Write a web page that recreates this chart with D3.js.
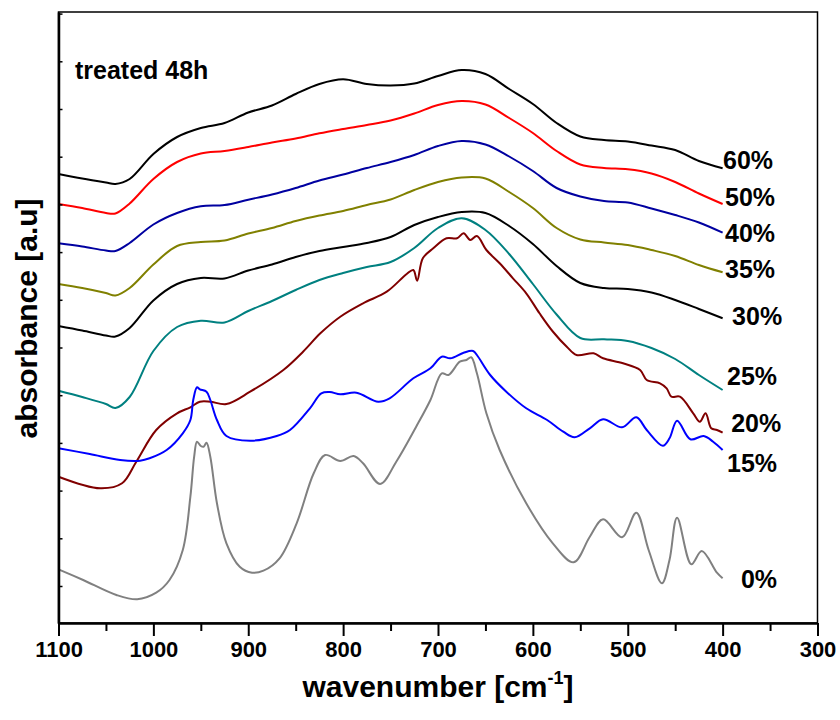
<!DOCTYPE html>
<html>
<head>
<meta charset="utf-8">
<script src="https://cdn.jsdelivr.net/npm/d3@7"></script>
<style>
  body { margin: 0; background: #fff; }
  text { font-family: "Liberation Sans", Arial, sans-serif; font-weight: bold; }
</style>
</head>
<body>
<svg id="chart" width="840" height="720"></svg>
<script>
// shared wavenumber grid for the smooth spectra
var wavenumbers = [1100, 1075, 1050, 1040, 1025, 1000, 975, 950, 925, 900, 875, 850, 825, 800, 775,
  750, 725, 700, 675, 650, 625, 600, 575, 550, 525, 500, 475, 450, 425, 400];

var abs60 = [4.49, 4.445, 4.405, 4.39, 4.44, 4.69, 4.86, 4.95, 5.0, 5.105, 5.175, 5.29, 5.39, 5.437, 5.39,
  5.375, 5.395, 5.47, 5.53, 5.49, 5.34, 5.19, 5.0, 4.865, 4.83, 4.815, 4.775, 4.73, 4.62, 4.547];
var abs50 = [4.19, 4.15, 4.10, 4.095, 4.195, 4.44, 4.61, 4.695, 4.72, 4.76, 4.805, 4.845, 4.897, 4.94, 4.98,
  5.025, 5.095, 5.18, 5.22, 5.185, 5.05, 4.90, 4.72, 4.585, 4.55, 4.537, 4.495, 4.41, 4.295, 4.19];
var abs40 = [3.797, 3.765, 3.725, 3.72, 3.80, 3.985, 4.10, 4.167, 4.18, 4.233, 4.285, 4.35, 4.425, 4.485, 4.55,
  4.61, 4.68, 4.77, 4.82, 4.785, 4.665, 4.52, 4.35, 4.265, 4.22, 4.205, 4.145, 4.08, 4.005, 3.903];
var abs35 = [3.39, 3.35, 3.30, 3.275, 3.35, 3.585, 3.77, 3.81, 3.825, 3.895, 3.95, 4.02, 4.075, 4.12, 4.18,
  4.235, 4.33, 4.41, 4.455, 4.445, 4.31, 4.15, 3.95, 3.835, 3.805, 3.78, 3.73, 3.67, 3.58, 3.507];
var abs30 = [2.97, 2.925, 2.875, 2.865, 2.95, 3.225, 3.39, 3.45, 3.445, 3.525, 3.585, 3.66, 3.72, 3.76, 3.80,
  3.86, 3.98, 4.06, 4.11, 4.10, 3.97, 3.79, 3.57, 3.40, 3.35, 3.34, 3.305, 3.23, 3.14, 3.047];
var abs25 = [2.323, 2.26, 2.19, 2.15, 2.26, 2.72, 2.96, 3.023, 3.005, 3.12, 3.22, 3.33, 3.43, 3.50, 3.56,
  3.61, 3.75, 3.95, 4.047, 3.93, 3.69, 3.39, 3.085, 2.85, 2.837, 2.82, 2.75, 2.64, 2.48, 2.33];

// spectra with sharper bands get their own grid
var wn20 = [1100, 1056, 1033, 1018, 997, 975, 961, 951, 940, 923, 898, 863, 842, 824, 803, 779, 754, 733,
  726, 722, 716, 705, 691, 680, 673, 666, 659, 649, 635, 621, 607, 593, 579, 564, 554, 536, 526, 505, 487,
  480, 466, 459, 454, 445, 431, 424, 418, 412, 406, 400];
var abs20 = [1.463, 1.347, 1.397, 1.613, 1.93, 2.097, 2.157, 2.213, 2.213, 2.19, 2.313, 2.53, 2.715, 2.897,
  3.063, 3.197, 3.313, 3.49, 3.53, 3.423, 3.647, 3.747, 3.847, 3.847, 3.897, 3.83, 3.87, 3.73, 3.597, 3.447,
  3.297, 3.097, 2.915, 2.76, 2.68, 2.697, 2.647, 2.597, 2.53, 2.43, 2.397, 2.347, 2.263, 2.263, 2.097, 2.013,
  2.097, 1.947, 1.93, 1.903];

var wn15 = [1100, 1067, 1035, 1014, 1004, 986, 969, 961, 958, 954, 951, 944, 940, 933, 923, 898, 870, 856,
  835, 823, 814, 803, 786, 763, 751, 726, 708, 696, 687, 673, 663, 659, 645, 628, 607, 585, 568, 556, 540,
  526, 506, 491, 480, 463, 456, 448, 434, 420, 410, 400];
var abs15 = [1.747, 1.69, 1.63, 1.623, 1.647, 1.73, 1.897, 2.03, 2.23, 2.357, 2.337, 2.313, 2.23, 2.03, 1.87,
  1.823, 1.87, 1.93, 2.147, 2.297, 2.31, 2.287, 2.303, 2.213, 2.247, 2.447, 2.547, 2.663, 2.647, 2.703, 2.72,
  2.68, 2.48, 2.313, 2.147, 2.03, 1.913, 1.857, 1.947, 2.037, 1.957, 2.057, 1.93, 1.773, 1.847, 2.023, 1.837,
  1.87, 1.813, 1.73];

var wn0 = [1100, 1074, 1039, 1017, 997, 983, 969, 961, 957, 954, 950, 947, 944, 940, 933, 923, 909, 896, 884,
  867, 849, 831, 819, 803, 789, 779, 761, 744, 723, 708, 696, 689, 677, 670, 665, 659, 649, 635, 607, 579,
  557, 540, 526, 506, 491, 478, 464, 456, 448, 433, 422, 406, 400];
var abs0 = [0.537, 0.43, 0.28, 0.237, 0.303, 0.43, 0.73, 1.263, 1.663, 1.813, 1.77, 1.763, 1.803, 1.663,
  1.197, 0.797, 0.563, 0.503, 0.523, 0.647, 0.997, 1.497, 1.68, 1.62, 1.67, 1.597, 1.39, 1.613, 1.963, 2.23,
  2.497, 2.48, 2.613, 2.63, 2.657, 2.497, 2.097, 1.73, 1.197, 0.797, 0.607, 0.863, 1.037, 0.857, 1.103, 0.73,
  0.397, 0.63, 1.053, 0.587, 0.72, 0.503, 0.447];

var seriesNames = ["60%", "50%", "40%", "35%", "30%", "25%", "20%", "15%", "0%"];
var seriesColors = ["#000000", "#ff0000", "#0000a0", "#808000", "#000000", "#008080", "#800000", "#0000ff", "#808080"];

// label anchors, in data units (wavenumber, absorbance)
var labelWn = [399.6, 397.5, 397.5, 397.5, 390, 395.4, 391, 395.4, 380.7];
var labelAbs = [4.54, 4.17, 3.813, 3.45, 2.98, 2.38, 1.913, 1.513, 0.347];

var xTicks = [1100, 1000, 900, 800, 700, 600, 500, 400, 300];
var xMinorTicks = [1050, 950, 850, 750, 650, 550, 450, 350];

var series = [
  {wn: wavenumbers, abs: abs60},
  {wn: wavenumbers, abs: abs50},
  {wn: wavenumbers, abs: abs40},
  {wn: wavenumbers, abs: abs35},
  {wn: wavenumbers, abs: abs30},
  {wn: wavenumbers, abs: abs25},
  {wn: wn20, abs: abs20},
  {wn: wn15, abs: abs15},
  {wn: wn0, abs: abs0}
];

var svg = d3.select("#chart");

var plotLeft = 58.5, plotRight = 817.5, plotTop = 12, plotBottom = 623;

var xScale = d3.scaleLinear().domain([1100, 300]).range([plotLeft, plotRight]);
var yScale = d3.scaleLinear().domain([0, 6.11]).range([plotBottom, plotTop]);

// y ticks have no labels, just evenly spaced inward marks
var yTicks = d3.range(0.37, 6.12, 0.477);

var line = d3.line()
  .x(function (d) { return xScale(d[0]); })
  .y(function (d) { return yScale(d[1]); })
  .curve(d3.curveCatmullRom.alpha(0.5));

svg.selectAll("path.spectrum")
  .data(series)
  .enter()
  .append("path")
  .attr("class", "spectrum")
  .attr("fill", "none")
  .attr("stroke", function (d, i) { return seriesColors[i]; })
  .attr("stroke-width", 2)
  .attr("d", function (d) {
    return line(d.wn.map(function (w, i) { return [w, d.abs[i]]; }));
  });

// frame
svg.append("rect")
  .attr("x", plotLeft).attr("y", plotTop)
  .attr("width", plotRight - plotLeft).attr("height", plotBottom - plotTop)
  .attr("fill", "none").attr("stroke", "#000").attr("stroke-width", 1.5);

var xAxis = d3.axisBottom(xScale).tickValues(xTicks).tickSize(13).tickSizeOuter(0)
  .tickPadding(5).tickFormat(d3.format("d"));
var gx = svg.append("g").attr("transform", "translate(0," + plotBottom + ")").call(xAxis);
gx.select(".domain").attr("stroke-width", 2.5);
gx.selectAll(".tick line").attr("stroke-width", 2);
gx.selectAll(".tick text")
  .attr("font-size", 22)
  .attr("font-family", "'Liberation Sans', Arial, sans-serif")
  .attr("font-weight", "bold")
  .attr("fill", "#000");

var xMinor = d3.axisBottom(xScale).tickValues(xMinorTicks).tickSize(8).tickSizeOuter(0).tickFormat("");
var gxm = svg.append("g").attr("transform", "translate(0," + plotBottom + ")").call(xMinor);
gxm.select(".domain").remove();
gxm.selectAll(".tick line").attr("stroke-width", 2);

var yAxis = d3.axisLeft(yScale).tickValues(yTicks).tickSize(-4).tickSizeOuter(0).tickFormat("");
var gy = svg.append("g").attr("transform", "translate(" + plotLeft + ",0)").call(yAxis);
gy.select(".domain").attr("stroke-width", 2.5);
gy.selectAll(".tick line").attr("stroke-width", 1.5);

// series labels
svg.selectAll("text.lbl")
  .data(seriesNames)
  .enter()
  .append("text")
  .attr("class", "lbl")
  .attr("x", function (d, i) { return xScale(labelWn[i]); })
  .attr("y", function (d, i) { return yScale(labelAbs[i]); })
  .attr("font-size", 25)
  .text(function (d) { return d; });

svg.append("text")
  .attr("x", 75).attr("y", 79)
  .attr("font-size", 25)
  .text("treated 48h");

var xTitle = svg.append("text")
  .attr("x", (plotLeft + plotRight) / 2).attr("y", 697)
  .attr("text-anchor", "middle")
  .attr("font-size", 30);
xTitle.append("tspan").text("wavenumber [cm");
xTitle.append("tspan").attr("font-size", 18).attr("dy", -13).text("-1");
xTitle.append("tspan").attr("dy", 13).text("]");

svg.append("text")
  .attr("transform", "translate(37," + ((plotTop + plotBottom) / 2 + 1) + ") rotate(-90)")
  .attr("text-anchor", "middle")
  .attr("font-size", 30)
  .text("absorbance [a.u]");
</script>
</body>
</html>
